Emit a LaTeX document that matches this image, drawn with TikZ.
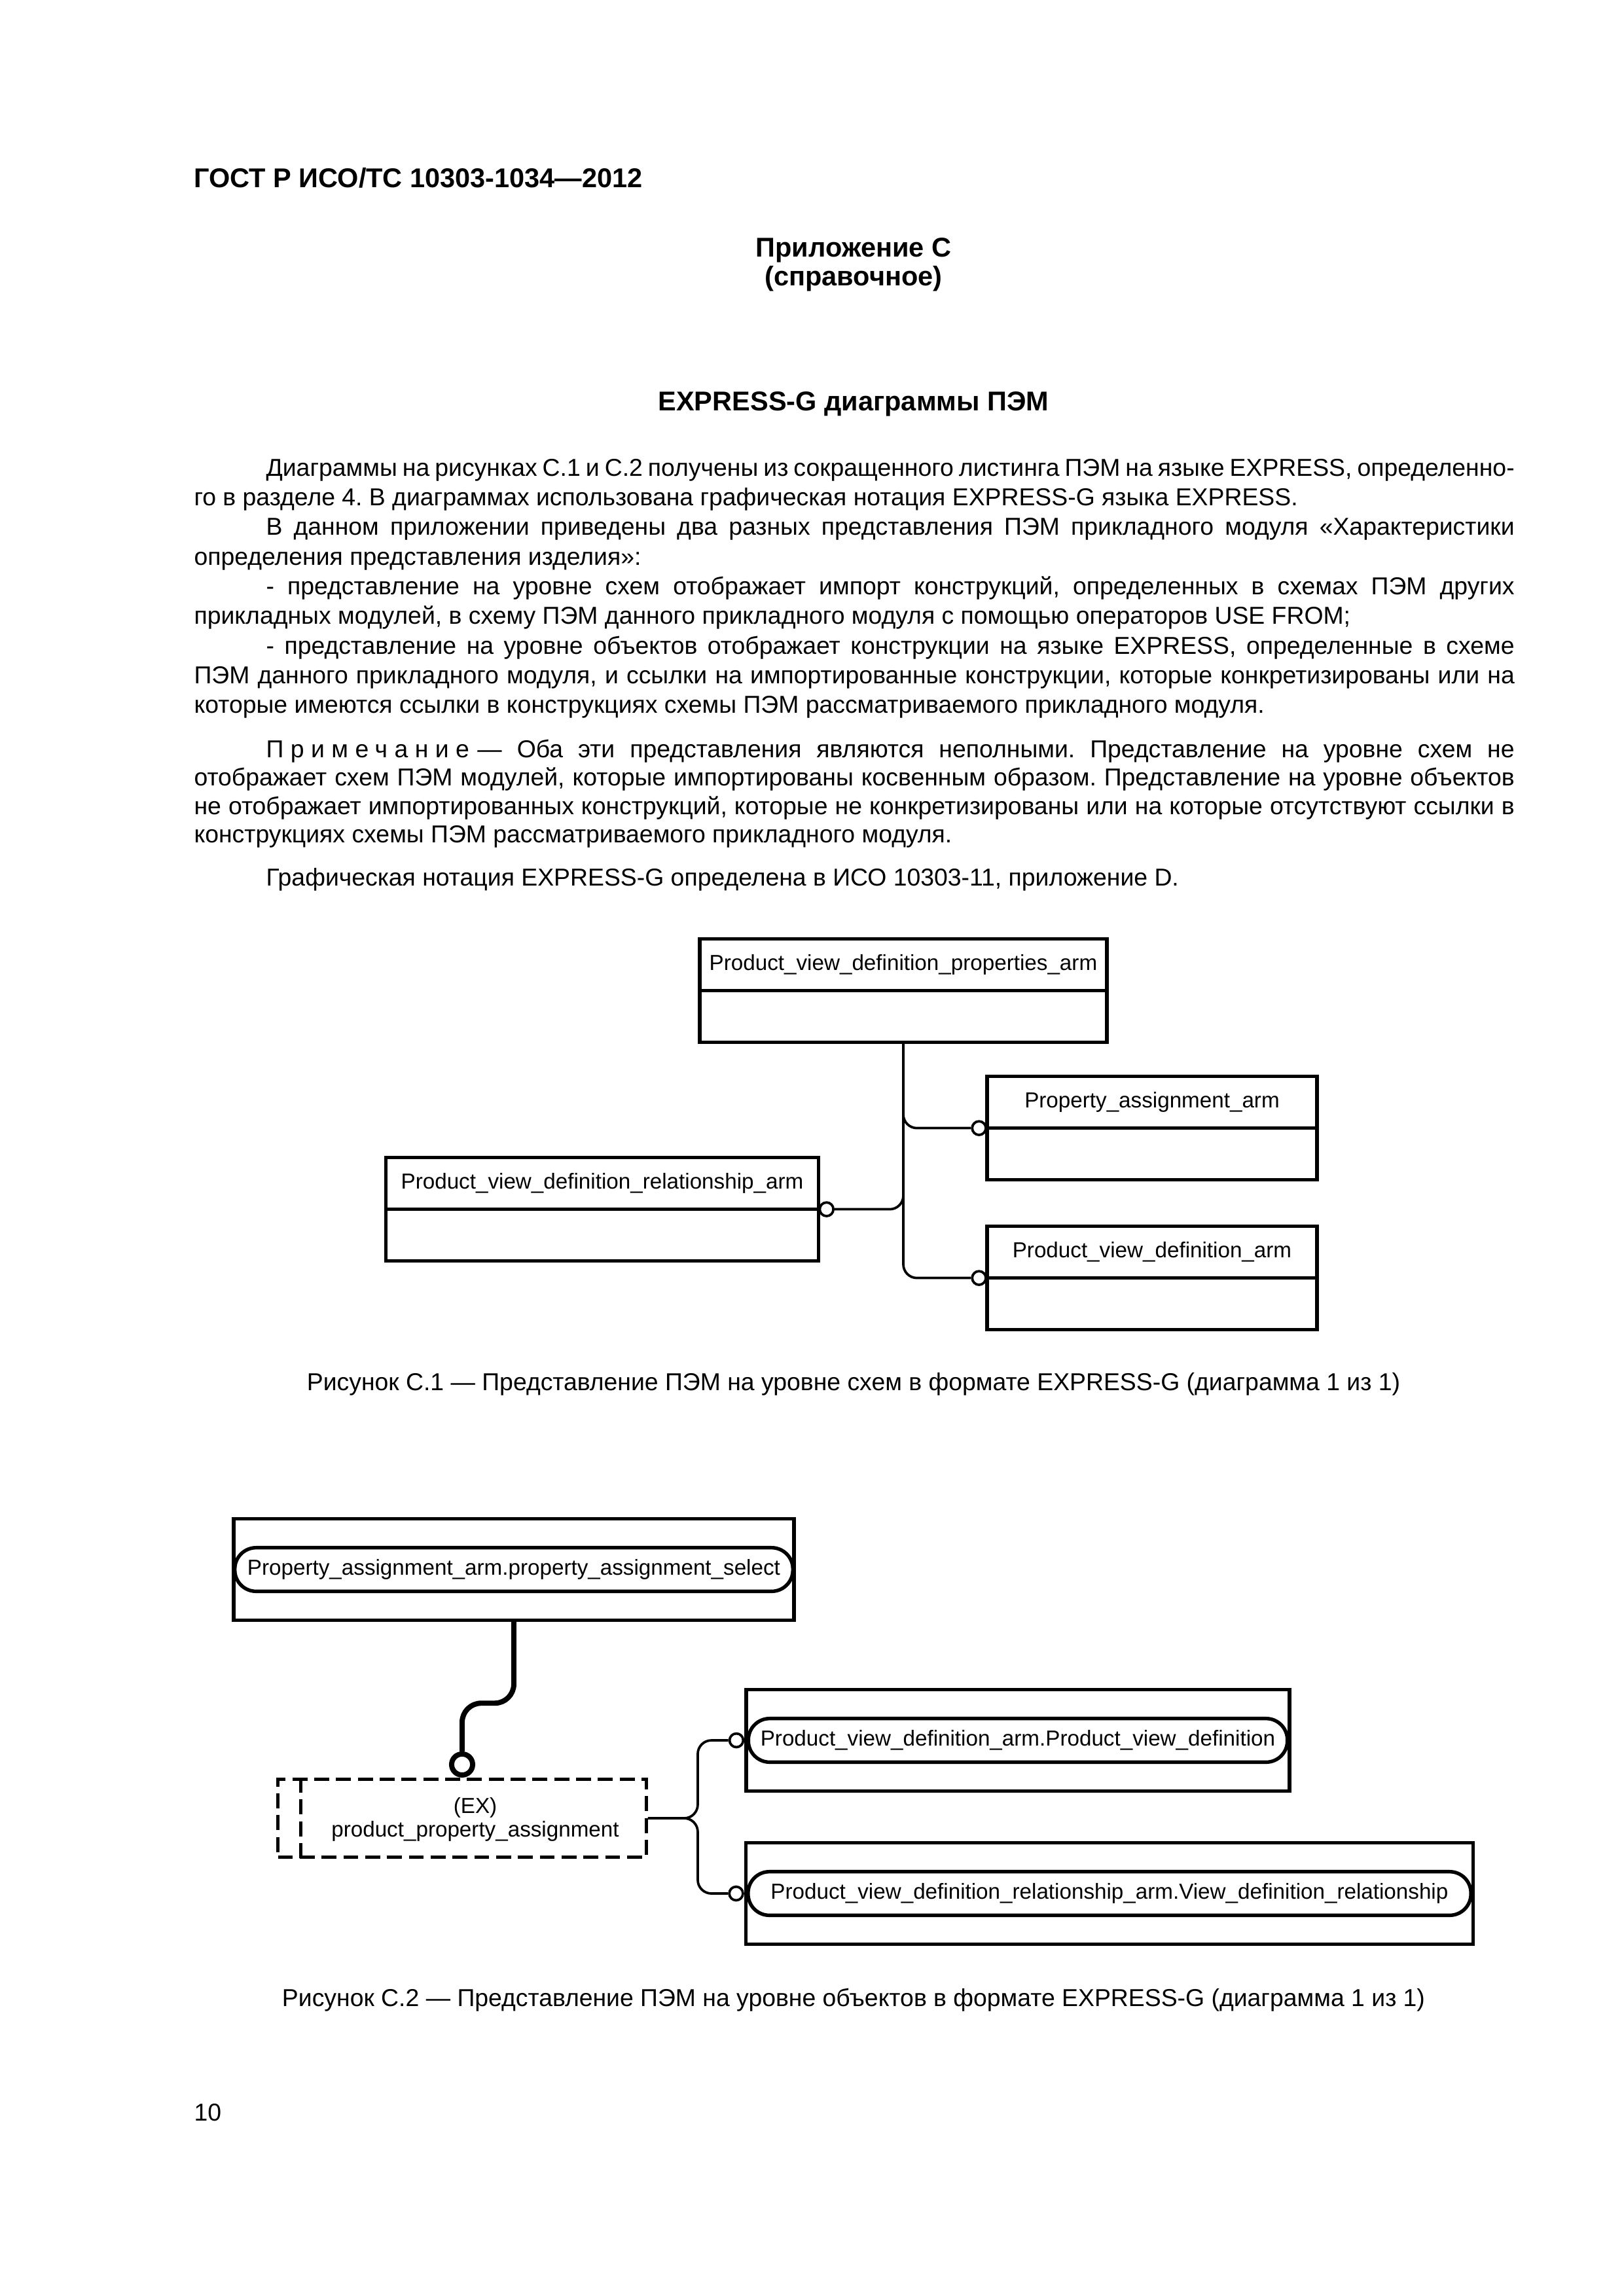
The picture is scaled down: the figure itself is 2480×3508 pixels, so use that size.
\documentclass[tikz,border=0pt]{standalone}
\usepackage{fontspec}
\setmainfont{Liberation Sans}
\usetikzlibrary{positioning,calc}
\frenchspacing

\newcommand{\diagfont}{\fontsize{8}{8.6}\selectfont}
\newcommand{\jline}[2]{\makebox[#1][s]{#2}}

\tikzset{every picture/.style={line width=0.75pt},
	headtext/.style={inner sep=0pt, font=\fontsize{10}{12}\selectfont\bfseries},
	bodytext/.style={anchor=base west, inner sep=0pt, font=\fontsize{9}{10.8}\selectfont},
	captext/.style={anchor=base, inner sep=0pt, font=\fontsize{9}{10.8}\selectfont},
	enthead/.style={draw, line width=1.3bp, inner sep=0pt, outer sep=0pt, minimum height=19bp, font=\diagfont},
	entbody/.style={draw, line width=1.3bp, inner sep=0pt, outer sep=0pt, minimum height=19bp},
	refbox/.style={draw, line width=1.3bp, inner sep=0pt, minimum height=37.2bp},
	pillbox/.style={draw, fill=white, line width=1.3bp, rounded corners=7.8bp, inner sep=0pt, minimum height=16bp, font=\diagfont},
	exbox/.style={draw, line width=1.2bp, dash pattern=on 5.5bp off 2.5bp, inner sep=0pt, minimum width=135.1bp, minimum height=28.6bp},
	ocirc/.style={circle, draw, fill=white, line width=0.9bp, inner sep=0pt, minimum size=5bp},
	thickcirc/.style={circle, draw, fill=white, line width=1.9bp, inner sep=0pt, minimum size=7.7bp},
	conn/.style={line width=0.9bp, rounded corners=5bp},
	thickconn/.style={line width=1.9bp, rounded corners=7bp}
}

\begin{document}
\begin{tikzpicture}[x=0.24bp,y=0.24bp,yscale=-1,xscale=1]
	\fill[white] (0,0) rectangle (2480,3508);
	\useasboundingbox (0,0) rectangle (2480,3508);

	% Page header
	\node[headtext, anchor=base west] (gost) at (295,286) {ГОСТ Р ИСО/ТС 10303-1034—2012};
	\node[headtext, anchor=base] (appx) at (1304,392) {Приложение С};
	\node[headtext, anchor=base] (appxkind) at (1304,436) {(справочное)};
	\node[headtext, anchor=base] (title) at (1304,627) {EXPRESS-G диаграммы ПЭМ};

	% Text lines
	\node[bodytext] (p1a) at (405,727) {\jline{457.7bp}{Диаграммы на рисунках С.1 и С.2 получены из сокращенного листинга ПЭМ на языке EXPRESS, определенно-}};
	\node[bodytext] (p1b) at (295,772) {го в разделе 4. В диаграммах использована графическая нотация EXPRESS-G языка EXPRESS.};
	\node[bodytext] (p2a) at (405,817) {\jline{457.7bp}{В данном приложении приведены два разных представления ПЭМ прикладного модуля «Характеристики}};
	\node[bodytext] (p2b) at (295,863) {определения представления изделия»:};
	\node[bodytext] (p3a) at (405,908) {\jline{457.7bp}{- представление на уровне схем отображает импорт конструкций, определенных в схемах ПЭМ других}};
	\node[bodytext] (p3b) at (295,953) {прикладных модулей, в схему ПЭМ данного прикладного модуля с помощью операторов USE FROM;};
	\node[bodytext] (p4a) at (405,999) {\jline{457.7bp}{- представление на уровне объектов отображает конструкции на языке EXPRESS, определенные в схеме}};
	\node[bodytext] (p4b) at (295,1044) {\jline{484.1bp}{ПЭМ данного прикладного модуля, и ссылки на импортированные конструкции, которые конкретизированы или на}};
	\node[bodytext] (p4c) at (295,1089) {которые имеются ссылки в конструкциях схемы ПЭМ рассматриваемого прикладного модуля.};

	% Note
	\node[bodytext] (n1) at (405,1157) {\jline{457.7bp}{{\addfontfeatures{LetterSpace=28}Примечание}\kern3bp— Оба эти представления являются неполными. Представление на уровне схем не}};
	\node[bodytext] (n2) at (295,1200) {\jline{484.1bp}{отображает схем ПЭМ модулей, которые импортированы косвенным образом. Представление на уровне объектов}};
	\node[bodytext] (n3) at (295,1244) {\jline{484.1bp}{не отображает импортированных конструкций, которые не конкретизированы или на которые отсутствуют ссылки в}};
	\node[bodytext] (n4) at (295,1287) {конструкциях схемы ПЭМ рассматриваемого прикладного модуля.};

	\node[bodytext] (p5) at (405,1353) {Графическая нотация EXPRESS-G определена в ИСО 10303-11, приложение D.};

	% Figure C.1
	\node[enthead, minimum width=149.3bp] (pvdp) at (1380,1474) {Product\_view\_definition\_properties\_arm};
	\node[entbody, minimum width=149.3bp, below=0pt of pvdp] (pvdpb) {};
	\node[enthead, minimum width=121bp] (pa) at (1760,1684) {Property\_assignment\_arm};
	\node[entbody, minimum width=121bp, below=0pt of pa] (pab) {};
	\node[enthead, minimum width=121bp] (pvd) at (1760,1913) {Product\_view\_definition\_arm};
	\node[entbody, minimum width=121bp, below=0pt of pvd] (pvdb) {};
	\node[enthead, minimum width=158.6bp] (rel) at (920,1808) {Product\_view\_definition\_relationship\_arm};
	\node[entbody, minimum width=158.6bp, below=0pt of rel] (relb) {};

	\node[ocirc, anchor=east] (pacirc) at (pab.north west) {};
	\node[ocirc, anchor=east] (pvdcirc) at (pvdb.north west) {};
	\node[ocirc, anchor=west] (relcirc) at (relb.north east) {};

	\draw[conn] (pvdpb.south) |- (pacirc.west);
	\draw[conn] (pvdpb.south) |- (relcirc.east);
	\draw[conn] (pvdpb.south) |- (pvdcirc.west);

	\node[captext] (fig1cap) at (1304,2124) {Рисунок С.1 — Представление ПЭМ на уровне схем в формате EXPRESS-G (диаграмма 1 из 1)};

	% Figure C.2
	\node[refbox, minimum width=205.4bp] (selbox) at (785,2398) {};
	\node[pillbox, minimum width=204.6bp] (selpill) at (selbox.center) {Property\_assignment\_arm.property\_assignment\_select};
	\node[refbox, minimum width=199.2bp] (pvd2box) at (1555,2659) {};
	\node[pillbox, minimum width=197.6bp] (pvd2pill) at (pvd2box.center) {Product\_view\_definition\_arm.Product\_view\_definition};
	\node[refbox, minimum width=266.6bp] (rel2box) at (1695,2893) {};
	\node[pillbox, minimum width=265bp] (rel2pill) at (rel2box.center) {Product\_view\_definition\_relationship\_arm.View\_definition\_relationship};

	\node[exbox] (ppa) at (706,2778) {};
	\draw[line width=1.2bp, dash pattern=on 5.5bp off 2.5bp] ($(ppa.north west)+(37,0)$) -- ($(ppa.south west)+(37,0)$);
	\node[inner sep=0pt, align=center, font=\diagfont] (ppatext) at (726,2780) {(EX)\\product\_property\_assignment};
	\node[thickcirc, above=0pt of ppa] (ppacirc) {};

	\coordinate (selbend) at ($(selbox.south)+(0,124)$);
	\draw[thickconn] (selbox.south) -- (selbend) -| (ppacirc.north);

	\node[ocirc, anchor=east] (pvd2circ) at (pvd2box.west) {};
	\node[ocirc, anchor=east] (rel2circ) at (rel2box.west) {};
	\coordinate (ppafork) at ($(ppa.east)+(76,0)$);
	\draw[conn] (ppa.east) -- (ppafork) |- (pvd2circ.west);
	\draw[conn] (ppa.east) -- (ppafork) |- (rel2circ.west);

	\node[captext] (fig2cap) at (1304,3065) {Рисунок С.2 — Представление ПЭМ на уровне объектов в формате EXPRESS-G (диаграмма 1 из 1)};

	\node[bodytext] (pageno) at (295,3240) {10};
\end{tikzpicture}
\end{document}
